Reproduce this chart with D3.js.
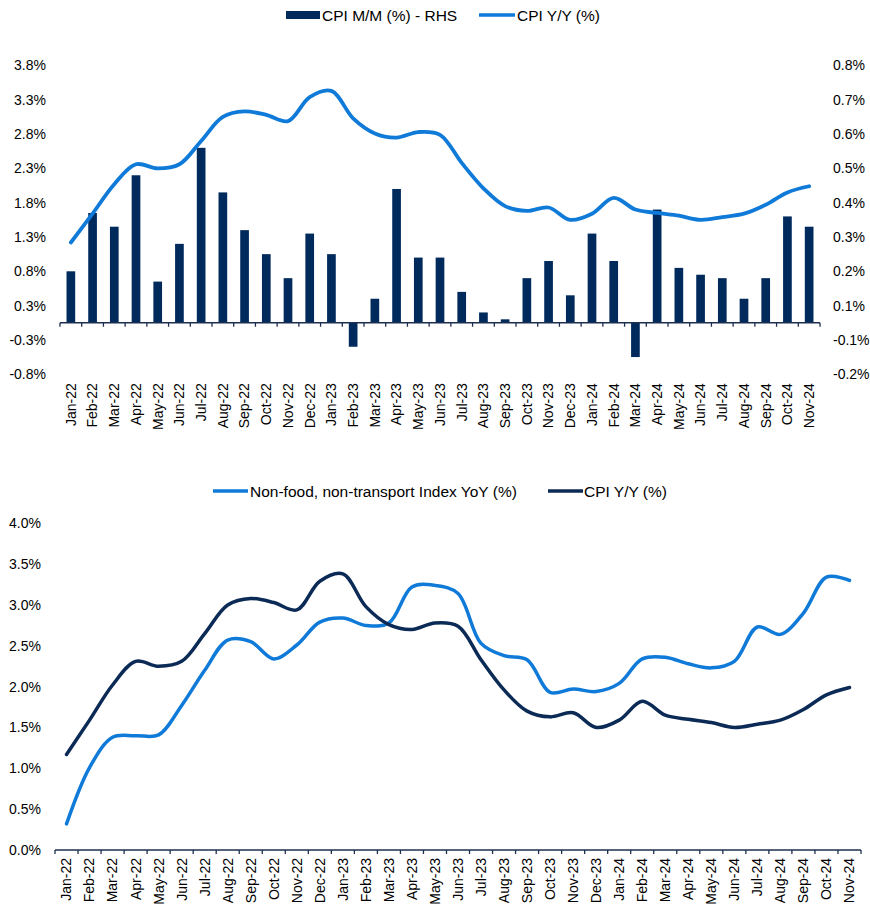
<!DOCTYPE html>
<html>
<head>
<meta charset="utf-8">
<title>CPI charts</title>
<style>
  body { margin: 0; background: #fff; }
  svg { display: block; }
  text { font-family: "Liberation Sans", Arial, sans-serif; fill: #000; }
  .tick-label { font-size: 14px; }
  .x-label { font-size: 14px; }
  .legend { font-size: 15.5px; }
</style>
<script src="https://cdn.jsdelivr.net/npm/d3@7"></script>
</head>
<body>
<script>
// months shared by both charts
var months = ["Jan-22","Feb-22","Mar-22","Apr-22","May-22","Jun-22","Jul-22","Aug-22","Sep-22","Oct-22","Nov-22","Dec-22",
              "Jan-23","Feb-23","Mar-23","Apr-23","May-23","Jun-23","Jul-23","Aug-23","Sep-23","Oct-23","Nov-23","Dec-23",
              "Jan-24","Feb-24","Mar-24","Apr-24","May-24","Jun-24","Jul-24","Aug-24","Sep-24","Oct-24","Nov-24"];

// CPI M/M (%) - right hand axis
var cpiMoM = [0.15, 0.32, 0.28, 0.43, 0.12, 0.23, 0.51, 0.38, 0.27, 0.20, 0.13, 0.26,
              0.20, -0.07, 0.07, 0.39, 0.19, 0.19, 0.09, 0.03, 0.01, 0.13, 0.18, 0.08,
              0.26, 0.18, -0.10, 0.33, 0.16, 0.14, 0.13, 0.07, 0.13, 0.31, 0.28];

// CPI Y/Y (%)
var cpiYoY = [1.17, 1.59, 2.02, 2.31, 2.25, 2.31, 2.65, 3.00, 3.08, 3.03, 2.94, 3.29,
              3.38, 2.98, 2.76, 2.70, 2.78, 2.74, 2.33, 1.96, 1.70, 1.63, 1.68, 1.50,
              1.59, 1.82, 1.65, 1.60, 1.56, 1.50, 1.54, 1.59, 1.72, 1.90, 1.99];

// Non-food, non-transport Index YoY (%)
var nonFoodYoY = [0.32, 1.01, 1.38, 1.40, 1.41, 1.77, 2.20, 2.57, 2.55, 2.34, 2.51, 2.79,
                  2.84, 2.75, 2.78, 3.22, 3.24, 3.14, 2.53, 2.38, 2.33, 1.93, 1.97, 1.94,
                  2.04, 2.34, 2.36, 2.28, 2.23, 2.31, 2.73, 2.64, 2.90, 3.34, 3.30];

// tick values and their printed labels
var leftTicks = [-0.75, -0.25, 0.25, 0.75, 1.25, 1.75, 2.25, 2.75, 3.25, 3.75];
var leftLabels = ["-0.8%", "-0.3%", "0.3%", "0.8%", "1.3%", "1.8%", "2.3%", "2.8%", "3.3%", "3.8%"];
var rightTicks = [-0.15, -0.05, 0.05, 0.15, 0.25, 0.35, 0.45, 0.55, 0.65, 0.75];
var rightLabels = ["-0.2%", "-0.1%", "0.1%", "0.2%", "0.3%", "0.4%", "0.5%", "0.6%", "0.7%", "0.8%"];
var bottomTicks = [0, 0.5, 1, 1.5, 2, 2.5, 3, 3.5, 4];
var bottomLabels = ["0.0%", "0.5%", "1.0%", "1.5%", "2.0%", "2.5%", "3.0%", "3.5%", "4.0%"];

var navy = "#002a5c";
var blue = "#0f7ad8";
var darkLine = "#0b2a55";
var axisColor = "#1d2f4f";

var svg = d3.select("body").append("svg")
    .attr("width", 870)
    .attr("height", 909);

var curve = d3.curveCatmullRom.alpha(0.5);

// ---------- top chart ----------
var x1 = d3.scaleBand().domain(months).range([60, 820]).paddingInner(0.6).paddingOuter(0.3);
var xb1 = d3.scaleBand().domain(months).range([60, 820]);
var yL = d3.scaleLinear().domain([-0.75, 3.75]).range([374.2, 65.5]);
var yR = d3.scaleLinear().domain([-0.15, 0.75]).range([374.2, 65.5]);

var topG = svg.append("g");

topG.selectAll(".bar")
   .data(cpiMoM)
   .enter()
   .append("rect")
   .attr("class", "bar")
   .attr("x", function(d, i) { return x1(months[i]); })
   .attr("width", x1.bandwidth())
   .attr("y", function(d) { return yR(Math.max(0, d)); })
   .attr("height", function(d) { return Math.abs(yR(d) - yR(0)); })
   .attr("fill", navy);

// x axis line at zero with tick marks between categories
topG.append("line")
   .attr("x1", xb1.range()[0]).attr("x2", xb1.range()[1])
   .attr("y1", yR(0)).attr("y2", yR(0))
   .attr("stroke", axisColor).attr("stroke-width", 1.3);
topG.selectAll(".xtick")
   .data(months.concat(["end"]))
   .enter()
   .append("line")
   .attr("x1", function(d, i) { return xb1.range()[0] + i * xb1.step(); })
   .attr("x2", function(d, i) { return xb1.range()[0] + i * xb1.step(); })
   .attr("y1", yR(0)).attr("y2", yR(0) + 4)
   .attr("stroke", axisColor).attr("stroke-width", 1.3);

topG.selectAll(".x-label")
   .data(months)
   .enter()
   .append("text")
   .attr("class", "x-label")
   .attr("transform", function(d) { return "translate(" + (xb1(d) + xb1.bandwidth() / 2) + "," + (yL.range()[0] + 9) + ") rotate(-90)"; })
   .attr("text-anchor", "end")
   .attr("dy", "0.35em")
   .text(function(d) { return d; });

topG.selectAll(".yl")
   .data(leftTicks)
   .enter()
   .append("text")
   .attr("class", "tick-label")
   .attr("x", 46)
   .attr("y", function(d) { return yL(d); })
   .attr("dy", "0.35em")
   .attr("text-anchor", "end")
   .text(function(d, i) { return leftLabels[i]; });

topG.selectAll(".yr")
   .data(rightTicks)
   .enter()
   .append("text")
   .attr("class", "tick-label")
   .attr("x", 833)
   .attr("y", function(d) { return yR(d); })
   .attr("dy", "0.35em")
   .text(function(d, i) { return rightLabels[i]; });

var line1 = d3.line()
    .x(function(d, i) { return xb1(months[i]) + xb1.bandwidth() / 2; })
    .y(function(d) { return yL(d); })
    .curve(curve);

topG.append("path")
   .datum(cpiYoY)
   .attr("d", line1)
   .attr("fill", "none")
   .attr("stroke", blue)
   .attr("stroke-width", 3.8)
   .attr("stroke-linecap", "round");

// top legend
topG.append("rect").attr("x", 286).attr("y", 11).attr("width", 34).attr("height", 8).attr("fill", navy);
topG.append("text").attr("class", "legend").attr("x", 322).attr("y", 20.5).text("CPI M/M (%) - RHS");
topG.append("line").attr("x1", 479).attr("x2", 515).attr("y1", 15).attr("y2", 15)
   .attr("stroke", blue).attr("stroke-width", 3.5);
topG.append("text").attr("class", "legend").attr("x", 517).attr("y", 20.5).text("CPI Y/Y (%)");

// ---------- bottom chart ----------
var x2 = d3.scaleBand().domain(months).range([55, 861]);
var y2 = d3.scaleLinear().domain([0, 4]).range([850, 523.3]);

var bottomG = svg.append("g");

bottomG.append("line")
   .attr("x1", x2.range()[0]).attr("x2", x2.range()[1])
   .attr("y1", y2(0)).attr("y2", y2(0))
   .attr("stroke", axisColor).attr("stroke-width", 1.3);
bottomG.selectAll(".xtick")
   .data(months.concat(["end"]))
   .enter()
   .append("line")
   .attr("x1", function(d, i) { return x2.range()[0] + i * x2.step(); })
   .attr("x2", function(d, i) { return x2.range()[0] + i * x2.step(); })
   .attr("y1", y2(0)).attr("y2", y2(0) + 4)
   .attr("stroke", axisColor).attr("stroke-width", 1.3);

bottomG.selectAll(".x-label")
   .data(months)
   .enter()
   .append("text")
   .attr("class", "x-label")
   .attr("transform", function(d) { return "translate(" + (x2(d) + x2.bandwidth() / 2) + "," + (y2(0) + 8) + ") rotate(-90)"; })
   .attr("text-anchor", "end")
   .attr("dy", "0.35em")
   .text(function(d) { return d; });

bottomG.selectAll(".yl")
   .data(bottomTicks)
   .enter()
   .append("text")
   .attr("class", "tick-label")
   .attr("x", 41)
   .attr("y", function(d) { return y2(d); })
   .attr("dy", "0.35em")
   .attr("text-anchor", "end")
   .text(function(d, i) { return bottomLabels[i]; });

var line2 = d3.line()
    .x(function(d, i) { return x2(months[i]) + x2.bandwidth() / 2; })
    .y(function(d) { return y2(d); })
    .curve(curve);

bottomG.append("path")
   .datum(nonFoodYoY)
   .attr("d", line2)
   .attr("fill", "none")
   .attr("stroke", blue)
   .attr("stroke-width", 3.5)
   .attr("stroke-linecap", "round");

bottomG.append("path")
   .datum(cpiYoY)
   .attr("d", line2)
   .attr("fill", "none")
   .attr("stroke", darkLine)
   .attr("stroke-width", 3.5)
   .attr("stroke-linecap", "round");

// bottom legend
bottomG.append("line").attr("x1", 213).attr("x2", 248).attr("y1", 491).attr("y2", 491)
   .attr("stroke", blue).attr("stroke-width", 3.5);
bottomG.append("text").attr("class", "legend").attr("x", 250).attr("y", 496.5)
   .text("Non-food, non-transport Index YoY (%)");
bottomG.append("line").attr("x1", 548).attr("x2", 583).attr("y1", 491).attr("y2", 491)
   .attr("stroke", darkLine).attr("stroke-width", 3.5);
bottomG.append("text").attr("class", "legend").attr("x", 584).attr("y", 496.5)
   .text("CPI Y/Y (%)");
</script>
</body>
</html>
